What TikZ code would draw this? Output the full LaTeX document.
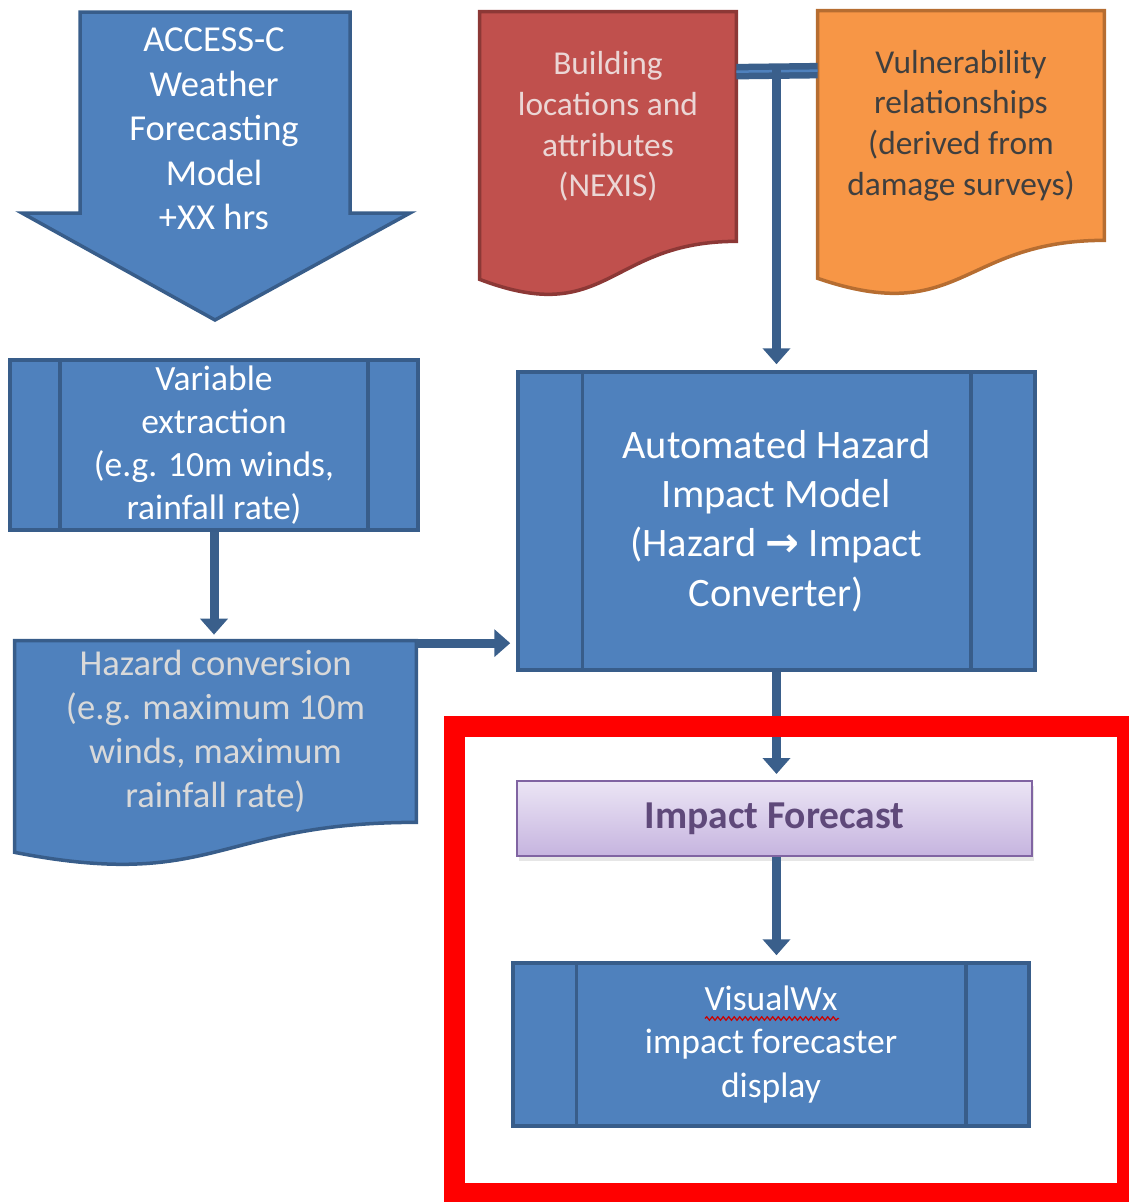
\documentclass[tikz,border=0pt]{standalone}
\usepackage{fontspec}
\setmainfont{Carlito}
\newfontfamily\symfont{DejaVu Sans}
\usetikzlibrary{positioning, calc, arrows.meta, backgrounds, shadows, decorations.pathmorphing}

\definecolor{boxblue}{HTML}{4F81BD}
\definecolor{edgeblue}{HTML}{385D8A}
\definecolor{linkblue}{HTML}{3A5F8B}
\definecolor{docred}{HTML}{C0504D}
\definecolor{edgered}{HTML}{8C3836}
\definecolor{docorange}{HTML}{F79646}
\definecolor{edgeorange}{HTML}{B66D31}
\definecolor{lilactop}{HTML}{EBE5F5}
\definecolor{lilacbot}{HTML}{C6B4DF}
\definecolor{edgelilac}{HTML}{8064A2}
\definecolor{textlilac}{HTML}{5F497A}
\definecolor{palegray}{HTML}{D9D9D9}
\definecolor{palered}{HTML}{EBD6D5}
\definecolor{darkgray}{HTML}{3F3F3F}

\tikzset{
  proc/.style={rectangle, draw=edgeblue, fill=boxblue, line width=0.7mm,
    text=white, align=center, inner sep=0pt},
  docu/.style={rectangle, align=center, inner sep=0pt},
  flow/.style={draw=linkblue, line width=1.8mm,
    -{Triangle[width=5.4mm,length=3.2mm]}, shorten >=1.2mm},
  feed/.style={draw=linkblue, double=boxblue, double distance=0.5mm, line width=1.3mm},
}

% side bars of a predefined process box
\newcommand{\sidebars}[2]{%
  \draw[edgeblue, line width=0.7mm] ([xshift=#2]#1.north west) -- ([xshift=#2]#1.south west);
  \draw[edgeblue, line width=0.7mm] ([xshift=-#2]#1.north east) -- ([xshift=-#2]#1.south east);}
% document shape with wavy bottom below a node
\newcommand{\wavebottom}[4]{%
  \path[#2] (#1.north west) -- (#1.north east) -- (#1.south east)
    .. controls (#1.south) and ($(#1.south)+(0,#3)$) .. ($(#1.south west)+(0,#4)$) -- cycle;}

\begin{document}
\begin{tikzpicture}[x=0.2mm, y=-0.2mm]
\useasboundingbox (0,0) rectangle (1128,1202);

% weather model
\path[fill=boxblue, draw=edgeblue, line width=0.7mm]
  (80,12) -- (350,12) -- (350,213) -- (410,213) -- (215,320) -- (22,213) -- (80,213) -- cycle;
\node[docu, text=white, font=\fontsize{20.8}{25.3}\selectfont] (access) at (214,129)
  {ACCESS-C\\Weather\\Forecasting\\Model\\+XX hrs};

% inputs
\node[docu, minimum width=51.2mm, minimum height=45.8mm, text=palered,
  font=\fontsize{19}{23.2}\selectfont] (bldg) at (608,126.5)
  {Building\\locations and\\attributes\\(NEXIS)};
\node[docu, minimum width=57.2mm, minimum height=45.8mm, text=darkgray,
  font=\fontsize{19}{23.2}\selectfont] (vuln) at (961,125.5)
  {Vulnerability\\relationships\\(derived from\\damage surveys)};

\node[proc, minimum width=81.6mm, minimum height=34mm,
  font=\fontsize{20.2}{24.5}\selectfont] (var) at (214,445)
  {Variable\\extraction\\(e.g. 10m winds,\\rainfall rate)};
\sidebars{var}{10.4mm}

\node[docu, minimum width=80.2mm, minimum height=36.2mm, text=palegray,
  font=\fontsize{20.8}{25}\selectfont] (haz) at (215.5,731.5)
  {Hazard conversion\\(e.g. maximum 10m\\winds, maximum\\rainfall rate)};

\node[proc, minimum width=103.4mm, minimum height=59.6mm,
  font=\fontsize{23}{28}\selectfont] (ahim) at (776.5,521)
  {Automated Hazard\\Impact Model\\(Hazard {\symfont\bfseries →} Impact\\Converter)};
\sidebars{ahim}{13.2mm}

\node[rectangle, draw=edgelilac, line width=0.4mm, top color=lilactop, bottom color=lilacbot,
  drop shadow={opacity=0.2, shadow xshift=0.3mm, shadow yshift=-1mm},
  minimum width=103mm, minimum height=15mm, inner sep=0pt, text=textlilac,
  font=\bfseries\fontsize{22.5}{26}\selectfont] (impf) at (774.5,818.5) {Impact Forecast};

\node[proc, minimum width=103.2mm, minimum height=32.6mm,
  font=\fontsize{20.2}{25}\selectfont] (vwx) at (771,1044.5)
  {VisualWx\\impact forecaster\\display};
\sidebars{vwx}{13mm}
\draw[red!80!black, line width=0.25mm, decorate,
  decoration={snake, amplitude=0.35mm, segment length=1.1mm}]
  ($(vwx.center)+(-66,-26)$) -- ($(vwx.center)+(68,-26)$);

\begin{pgfonlayer}{background}
\wavebottom{bldg}{fill=docred, draw=edgered, line width=0.7mm}{87}{38}
\wavebottom{vuln}{fill=docorange, draw=edgeorange, line width=0.7mm}{87}{38}
\wavebottom{haz}{fill=boxblue, draw=edgeblue, line width=0.7mm}{69}{30}
\end{pgfonlayer}

% connectors
\coordinate (join) at ([yshift=-12mm]bldg.north east -| ahim.north);
\draw[feed] ([yshift=-12mm]bldg.north east) -- ([yshift=-12mm]vuln.north west);
\draw[flow] ([yshift=1.5mm]join) -- (ahim.north);
\draw[flow] (var.south) -- (var.south |- haz.north);
\draw[flow] ([yshift=-0.5mm]haz.north east) -- ([yshift=-0.5mm]haz.north east -| ahim.west);
\draw[flow] (ahim.south) -- (ahim.south |- impf.north);
\draw[flow] (impf.south -| ahim.south) -- (ahim.south |- vwx.north);

% highlight
\draw[red, line width=4.2mm] (454.5,726) rectangle (1127.5,1193.5);
\end{tikzpicture}
\end{document}
